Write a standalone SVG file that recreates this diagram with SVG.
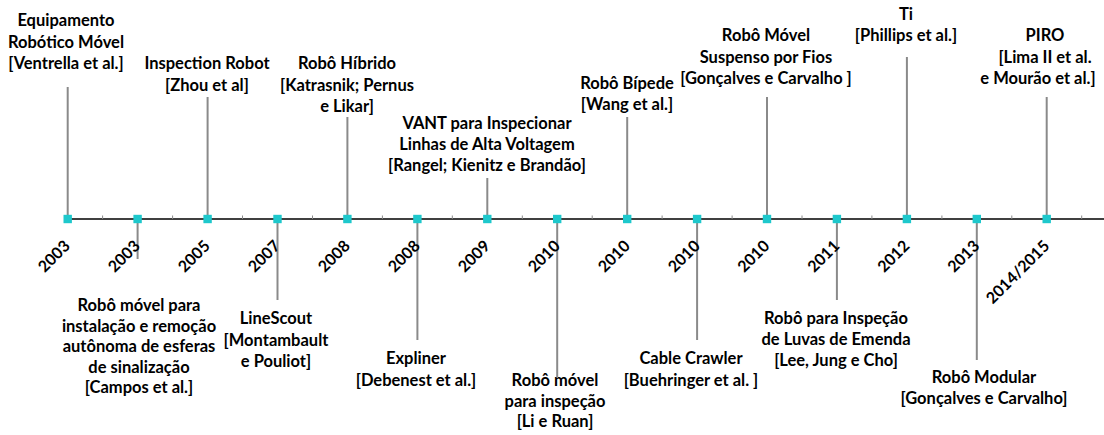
<svg xmlns="http://www.w3.org/2000/svg" width="1104" height="435" viewBox="0 0 1104 435">
<style>
.lbl{font-family:Lato,"Liberation Sans",sans-serif;font-weight:bold;font-size:16.5px;text-anchor:middle;fill:#000}
.yr{font-family:Lato,"Liberation Sans",sans-serif;font-weight:bold;font-size:16px;text-anchor:end;fill:#000}
.cn{stroke:#8a8a8a;stroke-width:2;fill:none}
.tk{stroke:#8a8a8a;stroke-width:1}
.mk{fill:#1ec8cc}
</style>
<defs>
<rect id="m" x="-4.2" y="-4.2" width="8.4" height="8.4" class="mk"/>
</defs>
<rect width="1104" height="435" fill="#fff"/>
<g id="connectors">
<line class="cn" x1="67.7" y1="87" x2="67.7" y2="219"/>
<line class="cn" x1="137.6" y1="219" x2="137.6" y2="259"/>
<line class="cn" x1="207.6" y1="97" x2="207.6" y2="219"/>
<line class="cn" x1="277.5" y1="219" x2="277.5" y2="300"/>
<line class="cn" x1="347.4" y1="117" x2="347.4" y2="219"/>
<line class="cn" x1="417.4" y1="219" x2="417.4" y2="340"/>
<line class="cn" x1="487.3" y1="178" x2="487.3" y2="219"/>
<line class="cn" x1="557.2" y1="219" x2="557.2" y2="377"/>
<line class="cn" x1="627.2" y1="117" x2="627.2" y2="219"/>
<line class="cn" x1="697.1" y1="219" x2="697.1" y2="340"/>
<line class="cn" x1="767" y1="97" x2="767" y2="219"/>
<line class="cn" x1="836.9" y1="219" x2="836.9" y2="300"/>
<line class="cn" x1="906.9" y1="57" x2="906.9" y2="219"/>
<line class="cn" x1="976.8" y1="219" x2="976.8" y2="360"/>
<line class="cn" x1="1046.7" y1="97" x2="1046.7" y2="219"/>
</g>
<g id="axis">
<line x1="67.7" y1="219" x2="1104" y2="219" stroke="#404040" stroke-width="2"/>
<g class="tk">
<line x1="102.6" y1="215.5" x2="102.6" y2="219"/><line x1="172.6" y1="215.5" x2="172.6" y2="219"/>
<line x1="242.5" y1="215.5" x2="242.5" y2="219"/><line x1="312.5" y1="215.5" x2="312.5" y2="219"/>
<line x1="382.4" y1="215.5" x2="382.4" y2="219"/><line x1="452.3" y1="215.5" x2="452.3" y2="219"/>
<line x1="522.3" y1="215.5" x2="522.3" y2="219"/><line x1="592.2" y1="215.5" x2="592.2" y2="219"/>
<line x1="662.1" y1="215.5" x2="662.1" y2="219"/><line x1="732.1" y1="215.5" x2="732.1" y2="219"/>
<line x1="802" y1="215.5" x2="802" y2="219"/><line x1="871.9" y1="215.5" x2="871.9" y2="219"/>
<line x1="941.9" y1="215.5" x2="941.9" y2="219"/><line x1="1011.8" y1="215.5" x2="1011.8" y2="219"/>
<line x1="1081.7" y1="215.5" x2="1081.7" y2="219"/>
</g>
</g>
<g id="n1">
<use href="#m" x="67.7" y="219"/>
<text class="yr" transform="rotate(-45 71 247)" x="71" y="247">2003</text>
<text class="lbl"><tspan x="66" y="26">Equipamento</tspan><tspan x="66" y="47.5">Robótico Móvel</tspan><tspan x="66" y="69">[Ventrella et al.]</tspan></text>
</g>
<g id="n2">
<use href="#m" x="137.6" y="219"/>
<text class="yr" transform="rotate(-45 141 247)" x="141" y="247">2003</text>
<text class="lbl"><tspan x="139" y="311">Robô móvel para</tspan><tspan x="139" y="331.5">instalação e remoção</tspan><tspan x="139" y="352">autônoma de esferas</tspan><tspan x="139" y="372.5">de sinalização</tspan><tspan x="139" y="393">[Campos et al.]</tspan></text>
</g>
<g id="n3">
<use href="#m" x="207.6" y="219"/>
<text class="yr" transform="rotate(-45 211 247)" x="211" y="247">2005</text>
<text class="lbl"><tspan x="207" y="69">Inspection Robot</tspan><tspan x="207" y="90.5">[Zhou et al]</tspan></text>
</g>
<g id="n4">
<use href="#m" x="277.5" y="219"/>
<text class="yr" transform="rotate(-45 281 247)" x="281" y="247">2007</text>
<text class="lbl"><tspan x="276" y="324">LineScout</tspan><tspan x="276" y="345.5">[Montambault</tspan><tspan x="276" y="367">e Pouliot]</tspan></text>
</g>
<g id="n5">
<use href="#m" x="347.4" y="219"/>
<text class="yr" transform="rotate(-45 351 247)" x="351" y="247">2008</text>
<text class="lbl"><tspan x="347" y="69">Robô Híbrido</tspan><tspan x="347" y="90.5">[Katrasnik; Pernus</tspan><tspan x="347" y="112">e Likar]</tspan></text>
</g>
<g id="n6">
<use href="#m" x="417.4" y="219"/>
<text class="yr" transform="rotate(-45 421 247)" x="421" y="247">2008</text>
<text class="lbl"><tspan x="416" y="364">Expliner</tspan><tspan x="416" y="385.5">[Debenest et al.]</tspan></text>
</g>
<g id="n7">
<use href="#m" x="487.3" y="219"/>
<text class="yr" transform="rotate(-45 491 247)" x="491" y="247">2009</text>
<text class="lbl"><tspan x="487" y="129">VANT para Inspecionar</tspan><tspan x="487" y="150">Linhas de Alta Voltagem</tspan><tspan x="487" y="171">[Rangel; Kienitz e Brandão]</tspan></text>
</g>
<g id="n8">
<use href="#m" x="557.2" y="219"/>
<text class="yr" transform="rotate(-45 561 247)" x="561" y="247">2010</text>
<text class="lbl"><tspan x="555" y="386">Robô móvel</tspan><tspan x="555" y="406.5">para inspeção</tspan><tspan x="555" y="427">[Li e Ruan]</tspan></text>
</g>
<g id="n9">
<use href="#m" x="627.2" y="219"/>
<text class="yr" transform="rotate(-45 631 247)" x="631" y="247">2010</text>
<text class="lbl"><tspan x="627" y="88.5">Robô Bípede</tspan><tspan x="627" y="109.5">[Wang et al.]</tspan></text>
</g>
<g id="n10">
<use href="#m" x="697.1" y="219"/>
<text class="yr" transform="rotate(-45 701 247)" x="701" y="247">2010</text>
<text class="lbl"><tspan x="691" y="364">Cable Crawler</tspan><tspan x="691" y="385.5">[Buehringer et al. ]</tspan></text>
</g>
<g id="n11">
<use href="#m" x="767" y="219"/>
<text class="yr" transform="rotate(-45 770.5 247)" x="770.5" y="247">2010</text>
<text class="lbl"><tspan x="766" y="41">Robô Móvel</tspan><tspan x="766" y="62.5">Suspenso por Fios</tspan><tspan x="766" y="84">[Gonçalves e Carvalho ]</tspan></text>
</g>
<g id="n12">
<use href="#m" x="836.9" y="219"/>
<text class="yr" transform="rotate(-45 840.5 247)" x="840.5" y="247">2011</text>
<text class="lbl"><tspan x="836" y="324">Robô para Inspeção</tspan><tspan x="836" y="345">de Luvas de Emenda</tspan><tspan x="836" y="366">[Lee, Jung e Cho]</tspan></text>
</g>
<g id="n13">
<use href="#m" x="906.9" y="219"/>
<text class="yr" transform="rotate(-45 910.5 247)" x="910.5" y="247">2012</text>
<text class="lbl"><tspan x="906" y="19.5">Ti</tspan><tspan x="906" y="41">[Phillips et al.]</tspan></text>
</g>
<g id="n14">
<use href="#m" x="976.8" y="219"/>
<text class="yr" transform="rotate(-45 980.5 247)" x="980.5" y="247">2013</text>
<text class="lbl"><tspan x="984" y="383">Robô Modular</tspan><tspan x="984" y="403.5">[Gonçalves e Carvalho]</tspan></text>
</g>
<g id="n15">
<use href="#m" x="1046.7" y="219"/>
<text class="yr" transform="rotate(-45 1050.5 247)" x="1050.5" y="247">2014/2015</text>
<text class="lbl"><tspan x="1045" y="41">PIRO</tspan><tspan x="1045" y="62.5">[Lima II et al.</tspan><tspan x="1038" y="84">e Mourão et al.]</tspan></text>
</g>
</svg>
